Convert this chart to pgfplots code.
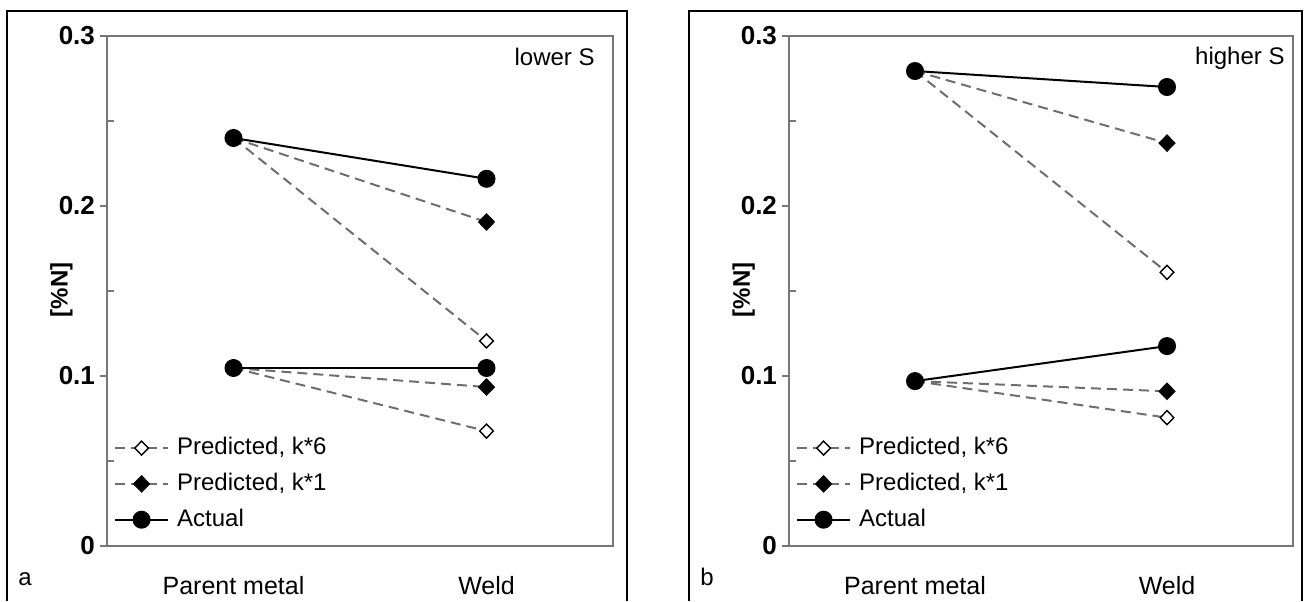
\documentclass[border=0pt]{standalone}
\usepackage{fontspec}
\setmainfont{Liberation Sans}
\usepackage{pgfplots}
\pgfplotsset{compat=1.18}
\definecolor{axgray}{HTML}{777777}
\definecolor{dashgray}{HTML}{6E6E6E}
\pgfplotsset{
 panel/.style={
  scale only axis, width=253pt, height=255pt,
  xmin=-0.5, xmax=1.5, ymin=0, ymax=0.3,
  xtick={0,1}, xticklabels={Parent metal,Weld},
  ytick={0,0.1,0.2,0.3}, minor y tick num=1,
  tick pos=left, tick align=outside,
  major tick length=3.5pt, minor tick length=3.5pt,
  minor y tick style={xshift=3.5pt},
  major x tick style={draw=none},
  axis line style={axgray, line width=1pt},
  tick style={axgray, line width=1pt},
  /pgf/number format/assume math mode=true,
  /pgf/number format/fixed,
  yticklabel style={font=\fontsize{13}{15}\selectfont\bfseries, xshift=1pt},
  xticklabel style={font=\fontsize{12.5}{14}\selectfont, yshift=-8pt},
  ylabel={[\%N]},
  ylabel style={font=\fontsize{12}{14}\selectfont\bfseries, at={(axis description cs:-0.09,0.502)}, anchor=center},
  legend style={at={(axis description cs:0,0)}, anchor=south west, xshift=3.5pt, yshift=6pt,
    draw=none, fill=none, inner sep=0pt, row sep=4pt, column sep=3pt,
    font=\fontsize{12}{14}\selectfont,
    nodes={inner sep=1.2pt, text height=9pt, text depth=2.5pt}},
  legend cell align=left,
  legend image code/.code={\draw[mark repeat=2, mark phase=2, ##1] plot coordinates {(0cm,0cm) (0.46cm,0cm) (0.92cm,0cm)};},
 },
 act/.style={black, line width=1pt, mark=*, mark size=4pt, mark options={solid, fill=black}},
 k1/.style={dashgray, line width=1pt, dash pattern=on 5pt off 3pt, mark indices={2}, mark=diamond*, mark size=3.75pt, mark options={solid, fill=black, draw=black, xscale=1.3}},
 k6/.style={dashgray, line width=1pt, dash pattern=on 5pt off 3pt, mark indices={2}, mark=diamond*, mark size=3.5pt, mark options={solid, fill=white, draw=black, line width=0.7pt, xscale=1.3}},
}
\begin{document}
\begin{tikzpicture}
\useasboundingbox (0pt,0pt) rectangle (652.5pt,300.5pt);
\draw[line width=0.6pt] (3.5pt,0pt) -- (3.5pt,295pt) -- (313.5pt,295pt) -- (313.5pt,0pt);
\draw[line width=0.6pt] (344.5pt,0pt) -- (344.5pt,295pt) -- (651pt,295pt) -- (651pt,0pt);
\node[anchor=base west, inner sep=0pt, font=\fontsize{12}{14}\selectfont] at (9pt,8pt) {a};
\node[anchor=base west, inner sep=0pt, font=\fontsize{12}{14}\selectfont] at (350pt,8pt) {b};

\begin{axis}[panel, at={(53.5pt,27.5pt)}, anchor=south west]
\addplot[k6] coordinates {(0,0.24) (1,0.1206)};
\addlegendentry{Predicted, k*6}
\addplot[k1] coordinates {(0,0.24) (1,0.1906)};
\addlegendentry{Predicted, k*1}
\addplot[act] coordinates {(0,0.24) (1,0.216)};
\addlegendentry{Actual}
\addplot[k6, forget plot] coordinates {(0,0.1047) (1,0.0676)};
\addplot[k1, forget plot] coordinates {(0,0.1047) (1,0.0935)};
\addplot[act, forget plot] coordinates {(0,0.1047) (1,0.1047)};
\node[anchor=north east, inner sep=0pt, font=\fontsize{12}{14}\selectfont, xshift=-9pt, yshift=-6pt] at (rel axis cs:1,1) {lower S};
\end{axis}

\begin{axis}[panel, width=252pt, at={(394.5pt,27.5pt)}, anchor=south west]
\addplot[k6] coordinates {(0,0.2794) (1,0.161)};
\addlegendentry{Predicted, k*6}
\addplot[k1] coordinates {(0,0.2794) (1,0.237)};
\addlegendentry{Predicted, k*1}
\addplot[act] coordinates {(0,0.2794) (1,0.270)};
\addlegendentry{Actual}
\addplot[k6, forget plot] coordinates {(0,0.097) (1,0.0755)};
\addplot[k1, forget plot] coordinates {(0,0.097) (1,0.091)};
\addplot[act, forget plot] coordinates {(0,0.097) (1,0.1176)};
\node[anchor=north east, inner sep=0pt, font=\fontsize{12}{14}\selectfont, xshift=-4pt, yshift=-5.5pt] at (rel axis cs:1,1) {higher S};
\end{axis}
\end{tikzpicture}
\end{document}
